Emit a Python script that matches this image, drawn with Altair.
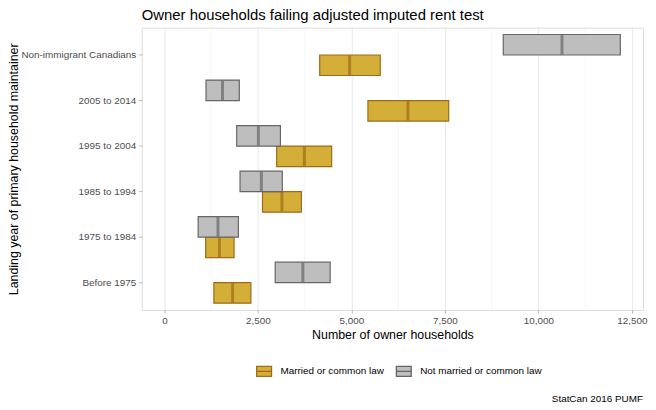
import altair as alt
import pandas as pd

categories = ["Non-immigrant Canadians", "2005 to 2014", "1995 to 2004",
              "1985 to 1994", "1975 to 1984", "Before 1975"]
groups = ["Married or common law", "Not married or common law"]

married_low = [4150, 5440, 3000, 2620, 1100, 1320]
married_mid = [4950, 6510, 3740, 3140, 1470, 1820]
married_high = [5770, 7600, 4470, 3660, 1860, 2310]

single_low = [9060, 1110, 1930, 2020, 900, 2960]
single_mid = [10630, 1550, 2510, 2590, 1430, 3700]
single_high = [12190, 2000, 3100, 3150, 1975, 4430]

x_ticks = [0, 2500, 5000, 7500, 10000, 12500]
minor_ticks = [1250, 3750, 6250, 8750, 11250]

title_text = "Owner households failing adjusted imputed rent test"
caption_text = "StatCan 2016 PUMF"

rows = []
for i, c in enumerate(categories):
    rows.append(dict(cat=c, grp=groups[0], low=married_low[i], mid=married_mid[i], high=married_high[i]))
    rows.append(dict(cat=c, grp=groups[1], low=single_low[i], mid=single_mid[i], high=single_high[i]))
df = pd.DataFrame(rows)

FONT = "Liberation Sans"
W, H = 506, 285
xscale = alt.Scale(domain=[-609, 12798], nice=False, zero=False)
yscale = alt.Scale(paddingInner=0, paddingOuter=0.1)
yoff_scale = alt.Scale(domain=[groups[1], groups[0]], paddingInner=0, paddingOuter=0.111)

fill_scale = alt.Scale(domain=groups, range=["#D4AF37", "#BEBEBE"])
stroke_scale = alt.Scale(domain=groups, range=["#A06A18", "#666666"])

base = alt.Chart(df)

boxes = base.mark_bar(strokeWidth=1.2).encode(
    x=alt.X("low:Q", scale=xscale,
            axis=alt.Axis(values=x_ticks, format=",.0f", title="Number of owner households",
                          labelColor="#4D4D4D", labelFontSize=10, labelFont=FONT,
                          titleFont=FONT, titleFontSize=12.5, titleFontWeight="normal",
                          titleColor="#000000", tickColor="#B3B3B3", tickSize=3,
                          labelPadding=3, titlePadding=3, domain=False,
                          gridColor="#DEDEDE", gridWidth=0.7)),
    x2="high:Q",
    y=alt.Y("cat:N", sort=categories, scale=yscale,
            axis=alt.Axis(title="Landing year of primary household maintainer",
                          labelColor="#4D4D4D", labelFontSize=10, labelFont=FONT,
                          titleFont=FONT, titleFontSize=12.5, titleFontWeight="normal",
                          titleColor="#000000", tickColor="#B3B3B3", tickSize=3,
                          labelPadding=3, domain=False, gridColor="#DEDEDE", gridWidth=0.7,
                          titleAngle=-90, titleX=-125.5, titleY=H / 2, titleAlign="center",
                          titleBaseline="alphabetic")),
    yOffset=alt.YOffset("grp:N", scale=yoff_scale),
    fill=alt.Fill("grp:N", scale=fill_scale,
                  legend=alt.Legend(title=None, orient="none", direction="horizontal",
                                    legendX=115, legendY=338,
                                    symbolType="M-1,-0.67H1V0.67H-1Z M-1,0H1",
                                    symbolSize=225, symbolStrokeColor="#333333", symbolStrokeWidth=1.3,
                                    labelFont=FONT, labelFontSize=10, labelColor="#000000",
                                    labelOffset=8, columnPadding=9, symbolOpacity=1)),
    stroke=alt.Stroke("grp:N", scale=stroke_scale, legend=None),
)

minor = pd.DataFrame({"v": minor_ticks})
minor_grid = alt.Chart(minor).mark_rule(color="#EEEEEE", strokeWidth=0.6).encode(
    x=alt.X("v:Q", scale=xscale)
)

mids = base.mark_tick(orient="vertical", thickness=3, size=20).encode(
    x=alt.X("mid:Q", scale=xscale),
    y=alt.Y("cat:N", sort=categories, scale=yscale),
    yOffset=alt.YOffset("grp:N", scale=yoff_scale),
    color=alt.Color("grp:N", scale=stroke_scale, legend=None),
)

caption = alt.Chart(pd.DataFrame({"t": [caption_text]})).mark_text(
    align="right", baseline="alphabetic", font=FONT, fontSize=10, color="#000000"
).encode(x=alt.value(W), y=alt.value(378), text="t:N")

title = alt.Chart(pd.DataFrame({"t": [title_text]})).mark_text(
    align="left", baseline="alphabetic", font=FONT, fontSize=15, color="#000000"
).encode(x=alt.value(0), y=alt.value(-7.5), text="t:N")

chart = alt.layer(minor_grid, boxes, mids, caption, title).resolve_scale(
    fill="independent", stroke="independent", color="independent"
).properties(
    width=W, height=H,
    autosize=alt.AutoSizeParams(type="none"),
    padding={"left": 135, "top": 18, "right": 5, "bottom": 96},
).configure_view(stroke="#B3B3B3", strokeWidth=1.2).configure(background="white")

chart.save("out.html", embed_options={"renderer": "svg", "actions": False})
